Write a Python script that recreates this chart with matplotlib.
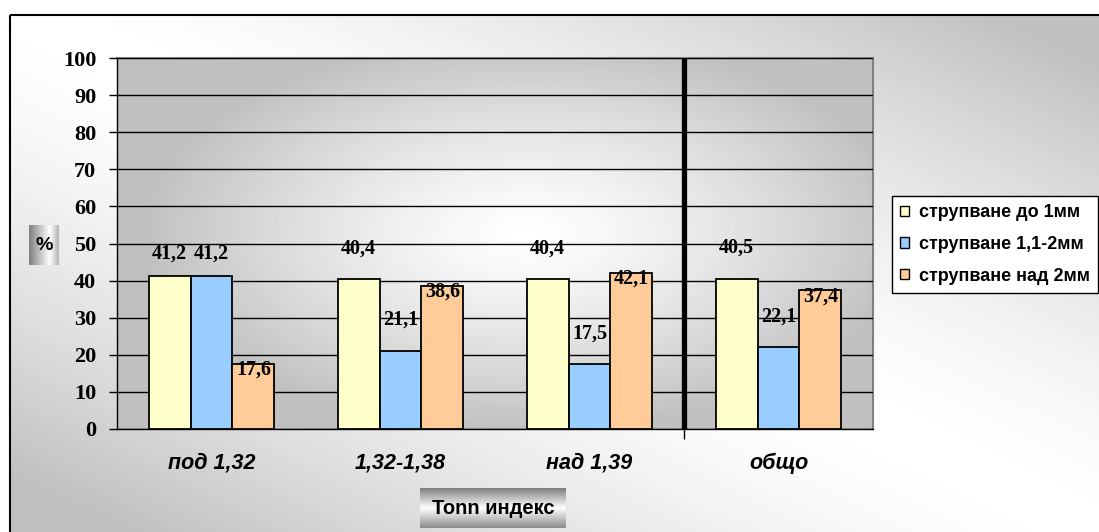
import numpy as np
import matplotlib.pyplot as plt
from matplotlib.patches import Rectangle, Patch

# data
categories = ['под 1,32', '1,32-1,38', 'над 1,39', 'общо']
series_names = ['струпване до 1мм', 'струпване 1,1-2мм', 'струпване над 2мм']
do_1mm = [41.2, 40.4, 40.4, 40.5]
ot_1_do_2mm = [41.2, 21.1, 17.5, 22.1]
nad_2mm = [17.6, 38.6, 42.1, 37.4]
y_ticks = list(range(0, 101, 10))

colors = ['#FFFFCC', '#99CCFF', '#FFCC99']
# label offsets above bar top (data units)
label_dy = [[6.2, 8.3, 8.3, 8.3],
            [6.2, 8.3, 8.3, 8.3],
            [-1.6, -1.6, -1.6, -1.6]]

W, H = 1099, 532


def px(x0, y0, x1, y1):
    return [x0 / W, 1 - y1 / H, (x1 - x0) / W, (y1 - y0) / H]


fig = plt.figure(figsize=(W / 100, H / 100), dpi=100)
fig.patch.set_facecolor('white')

# ---- outer chart background (diagonal gradient) ----
bg = fig.add_axes([0, 0, 1, 1], zorder=-10)
yy, xx = np.mgrid[0:H, 0:W]
d = np.abs(xx / W - yy / H)
grad = np.clip(1 - 0.3 * d ** 1.5, 0.75, 1.0)
grad[:15, :] = 1.0
grad[:, :10] = 1.0
bg.imshow(grad, extent=(0, W, H, 0), cmap='gray', vmin=0, vmax=1,
          aspect='auto', interpolation='bilinear')
bg.add_patch(Rectangle((10, 15), W, H, fill=False, edgecolor='black', lw=1.5))
bg.set_xlim(0, W)
bg.set_ylim(H, 0)
bg.axis('off')

# ---- plot area ----
ax = fig.add_axes(px(117, 58, 873, 429))
ax.set_facecolor('none')
gy, gx = np.mgrid[0:371, 0:756]
t = np.sqrt(((gx - 410) / 390.0) ** 2 + ((gy - 195) / 200.0) ** 2)
pgrad = np.clip(1 - 0.25 * t ** 1.3, 0.75, 1.0)
ax.imshow(pgrad, extent=(-0.5, 3.5, 100, 0), cmap='gray', vmin=0, vmax=1,
          aspect='auto', zorder=0, interpolation='bilinear')
ax.set_xlim(-0.5, 3.5)
ax.set_ylim(0, 100)

x = np.arange(len(categories))
bw = 0.222
for i, (vals, c) in enumerate(zip([do_1mm, ot_1_do_2mm, nad_2mm], colors)):
    pos = x + (i - 1) * bw
    ax.bar(pos, vals, width=bw, color=c, edgecolor='black', lw=1.3,
           zorder=3, label=series_names[i])
    for xp, v, dy in zip(pos, vals, label_dy[i]):
        ax.text(xp, v + dy, f'{v:.1f}'.replace('.', ','), ha='center',
                va='center', fontsize=14.5, fontweight='bold',
                family='Liberation Serif', zorder=5)

ax.set_yticks(y_ticks)
ax.yaxis.grid(True, color='black', lw=1)
ax.set_axisbelow(False)
for gl in ax.get_ygridlines():
    gl.set_zorder(1)
ax.tick_params(axis='y', length=6, width=1, pad=9, labelsize=16)
for lb in ax.get_yticklabels():
    lb.set_fontweight('bold')
    lb.set_family('Liberation Serif')

ax.set_xticks(x)
ax.set_xticklabels(categories, fontsize=15.5, fontweight='bold',
                   style='italic', family='Liberation Sans')
ax.tick_params(axis='x', length=0, pad=17)
ax.set_xticks([2.5], minor=True)
ax.tick_params(axis='x', which='minor', length=7, width=1)

# thick separator
ax.axvline(2.5, color='black', lw=3.8, zorder=4)

for s in ['top', 'right']:
    ax.spines[s].set_color('#808080')
    ax.spines[s].set_linewidth(1.5)
ax.spines['left'].set_linewidth(1)
ax.spines['bottom'].set_linewidth(1)

# ---- legend ----
handles = [Patch(facecolor=c, edgecolor='black', lw=1) for c in colors]
leg = fig.legend(handles, series_names, loc='upper left',
                 bbox_to_anchor=(892 / W, 1 - 196 / H),
                 prop={'family': 'Liberation Sans', 'weight': 'bold', 'size': 13},
                 handlelength=0.48, handleheight=0.48, handletextpad=0.55,
                 labelspacing=0.82, borderpad=0.45, borderaxespad=0,
                 fancybox=False, framealpha=1, edgecolor='black')
leg.get_frame().set_linewidth(1)

# ---- axis title boxes with metallic gradients ----
pa = fig.add_axes(px(29, 225, 59, 265))
hx = np.linspace(0, 1, 60)
hv = np.interp(hx, [0, 0.7, 1], [0.5, 1.0, 0.7])
pa.imshow(np.tile(hv, (10, 1)), cmap='gray', vmin=0, vmax=1, aspect='auto',
          extent=(0, 1, 0, 1))
pa.text(0.5, 0.5, '%', ha='center', va='center', fontsize=14,
        fontweight='bold', family='Liberation Sans', transform=pa.transAxes)
pa.axis('off')

ta = fig.add_axes(px(420, 488, 566, 528))
vy = np.linspace(0, 1, 60)
vv = np.interp(vy, [0, 0.5, 1], [0.5, 1.0, 0.55])
ta.imshow(np.tile(vv[:, None], (1, 10)), cmap='gray', vmin=0, vmax=1,
          aspect='auto', extent=(0, 1, 0, 1))
ta.text(0.5, 0.48, 'Tonn индекс', ha='center', va='center', fontsize=14.5,
        fontweight='bold', family='Liberation Sans', transform=ta.transAxes)
ta.axis('off')

fig.savefig('out.png', dpi=100)
